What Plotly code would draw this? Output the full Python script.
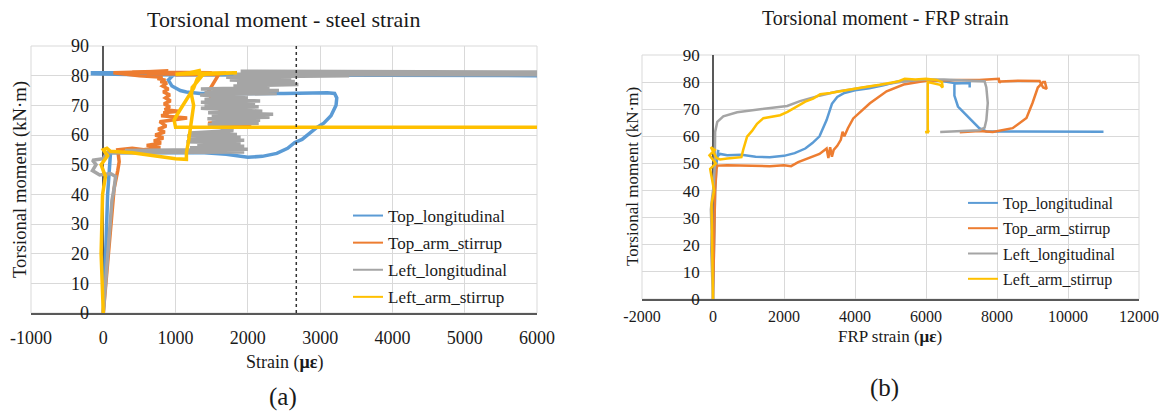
import plotly.graph_objects as go

PAGE_W, PAGE_H = 1167, 411
BODY = 8  # default page margin around the plot div
W, H = PAGE_W - BODY, PAGE_H - BODY
FONT = "Liberation Serif"
COLORS = {"Top_longitudinal": "#5B9BD5", "Top_arm_stirrup": "#ED7D31",
          "Left_longitudinal": "#A5A5A5", "Left_arm_stirrup": "#FFC000"}
SERIES = ["Top_longitudinal", "Top_arm_stirrup", "Left_longitudinal", "Left_arm_stirrup"]

# ---------------- (a) steel strain ----------------
steel_top_long_x = [0, 20, 40, 60, 80, 100, 300, 800, 1400, 1700, 2000, 2200, 2400, 2550, 2650, 2750, 2850,
                    2950, 3050, 3150, 3220, 3230, 3200, 3100, 2500, 1800, 1340, 1150, 1065, 950, 900, 980,
                    900, 400, -150, -150, 500, 2000, 4000, 6000]
steel_top_long_y = [0, 10, 25, 40, 50, 54, 54, 54, 54, 53.5, 52.5, 52.8, 53.8, 55.5, 57.5, 58.5, 60.5,
                    62.5, 64, 66.5, 70, 72.5, 74, 74.2, 74, 74, 74, 74.5, 75, 76.5, 78.5, 80.5,
                    81, 81, 81, 80.6, 80.3, 80.2, 80, 80]

steel_top_arm_x = [0, 50, 100, 150, 200, 220, 200, 400, 560, 790, 600, 800, 700, 830, 720, 850, 760, 870,
                   780, 1160, 800, 900, 830, 1040, 850, 920, 840, 930, 860, 920, 830, 900, 820, 880, 790,
                   860, 750, 820, 500, 300, 140, 900, 400, 1500, 600, 1700, 1000, 1600, 1450, 1500, 1550,
                   1650, 1900, 2030, 2050, 2000, 1600, 1450, 1700]
steel_top_arm_y = [0, 15, 30, 42, 48, 51, 55, 55.5, 55, 55.8, 56.5, 57.3, 58, 59, 60, 61, 62, 63,
                   64.5, 65.7, 66.5, 67, 67.5, 68, 68.5, 69.5, 70.5, 71.5, 72.5, 73.5, 74.5, 75.5, 76.5, 77.5, 78,
                   78.5, 79, 79.5, 80, 80.5, 81, 81.5, 81.2, 81, 80.5, 80.8, 80.3, 80.5, 74.5, 72.5, 70,
                   67.8, 67.5, 66, 64, 63, 63, 64, 64.5]

steel_left_long_x = [0, 30, 60, 90, 120, 150, 170, 100, -50, -150, -100, -150, 0,
                     50, 1950, 300, 2000, 1200, 1950, 1300, 1900, 1150, 1950,
                     1200, 1900, 1160, 1850, 1200, 1800, 1450, 2150, 1500, 2170,
                     1440, 2300, 1500, 2350, 1450, 2200, 1350, 2150, 1400, 2100,
                     1350, 2170, 1400, 2000, 1340, 2400, 1400, 2430, 1350, 2300,
                     1800, 2700, 1850, 2650, 1750, 2600, 1700, 3400, 1800, 3000,
                     1900, 6000, 2800, 6000]
steel_left_long_y = [0, 10, 20, 30, 38, 42, 46, 47, 46.5, 48, 50, 51.5, 52,
                     54, 54.3, 54.8, 55.2, 55.7, 56.2, 56.7, 57.2, 57.7, 58.2,
                     58.7, 59.2, 59.7, 60.2, 60.7, 61.5, 63.5, 64, 64.5, 65,
                     65.5, 66, 66.5, 67, 67.5, 68, 69, 69.5, 70, 70.5,
                     71, 71.5, 72, 72.5, 73.5, 74, 74.5, 75, 75.5, 76,
                     76.5, 77, 77.5, 78, 78.5, 79, 79.5, 80, 80.5, 81,
                     81.5, 81.2, 80.3, 80.3]

steel_left_arm_x = [0, -20, -30, -20, -10, 30, -30, 60, 0, 50, 100, 400, 700, 1000, 1150, 1150, 1180,
                    1200, 1230, 1250, 1220, 1230, 1300, 1350, 1300, 1350, 1200, 1000, 1400, 1850, 1400,
                    1300, 1250, 1150, 1050, 980, 1000, 2000, 6000]
steel_left_arm_y = [0, 10, 20, 30, 40, 46, 50, 53, 55, 55.5, 54.5, 54, 53, 52, 51.8, 54, 58,
                    62, 66, 70, 73.5, 76, 78, 79.5, 81.3, 81.8, 81, 80.5, 80.8, 81, 80.5,
                    79, 75.8, 72, 68, 65, 62.6, 62.6, 62.6]

YIELD_STRAIN = 2670

# ---------------- (b) FRP strain ----------------
frp_top_long_x = [0, 30, 60, 100, 150, 120, 200, 400, 800, 1200, 1600, 2000, 2300, 2600, 2800, 3000,
                  3200, 3350, 3500, 3700, 4000, 4400, 4800, 5200, 5600, 6000, 6400, 6800, 7230, 7230,
                  7230, 6800, 6800, 6900, 7200, 7500, 7700, 9000, 11000]
frp_top_long_y = [0, 20, 40, 50, 55, 52.5, 53.5, 53, 53.2, 52.5, 52.3, 52.8, 53.8, 55.5, 57.5, 60,
                  66, 72, 74.5, 76, 77, 77.7, 78.8, 80.2, 80.5, 80.8, 80.5, 79.7, 79.7, 78,
                  79.7, 79.5, 75, 71, 67, 63, 61.8, 61.8, 61.7]

frp_top_arm_x = [0, 30, 60, 100, 120, 400, 1000, 1600, 2000, 2200, 2400, 2700, 3000, 3200, 3250, 3300,
                 3350, 3400, 3500, 3600, 3650, 3700, 3800, 3950, 4420, 4890, 5370, 6000, 6500, 7000,
                 7500, 8050, 8070, 8100, 8600, 9200, 9300, 9400, 9350, 9300, 9150, 9000, 8830, 8440,
                 7880, 7500, 6950]
frp_top_arm_y = [0, 20, 40, 48, 49.2, 49.3, 49.2, 49, 49.3, 49, 50.5, 52, 53.5, 55.5, 52, 56,
                 52.5, 55, 56.5, 58.7, 61.7, 60, 63, 66.6, 72.2, 76.6, 79.1, 80.5, 80.7, 80.8,
                 80.8, 81.2, 79.8, 80.2, 80.5, 80.4, 78, 77.5, 80, 80, 78, 72.3, 66.8, 63,
                 61.6, 62, 61.5]

frp_left_long_x = [0, -30, -50, -40, -60, -20, 20, 50, 60, 120, 290, 680, 1000, 1420, 1800, 2090, 2450,
                   3000, 3500, 4000, 4500, 5000, 5500, 6000, 6500, 7000, 7500, 7650, 7700, 7740, 7700,
                   7650, 7500, 7000, 6400]
frp_left_long_y = [0, 10, 18, 25, 33, 38, 42, 50, 61.6, 65.3, 67.4, 68.9, 69.4, 70, 70.5, 71.2, 73,
                   75, 76.5, 77.5, 78.5, 79.5, 80.5, 81, 81, 80.7, 80.5, 80.3, 78, 72.3, 66,
                   63.2, 62.2, 62, 61.6]

frp_left_arm_x = [0, -20, -40, 30, -80, 80, -100, 50, -60, 100, 200, 400, 600, 800, 850, 900, 960, 1100,
                  1240, 1420, 1700, 1890, 2100, 2370, 2600, 2820, 3020, 3300, 3700, 4200, 4700, 5200,
                  5400, 5700, 6000, 6300, 6450, 6470, 6400, 6050, 6050, 5980, 6100]
frp_left_arm_y = [0, 20, 35, 40, 48, 50, 53, 55, 56, 52, 51.5, 51.8, 52, 52.3, 55, 57, 59.9, 62,
                  64.6, 66.7, 67.3, 67.8, 69, 71.2, 72.8, 73.9, 75.5, 76, 77, 78, 79, 80.2,
                  81.2, 81, 81.2, 80.8, 80, 78, 79, 80, 61.5, 61.5, 62]

x_ticks_a = [-1000, 0, 1000, 2000, 3000, 4000, 5000, 6000]
x_ticks_b = [-2000, 0, 2000, 4000, 6000, 8000, 10000, 12000]
y_ticks = [0, 10, 20, 30, 40, 50, 60, 70, 80, 90]

steel = {"Top_longitudinal": (steel_top_long_x, steel_top_long_y),
         "Top_arm_stirrup": (steel_top_arm_x, steel_top_arm_y),
         "Left_longitudinal": (steel_left_long_x, steel_left_long_y),
         "Left_arm_stirrup": (steel_left_arm_x, steel_left_arm_y)}
frp = {"Top_longitudinal": (frp_top_long_x, frp_top_long_y),
       "Top_arm_stirrup": (frp_top_arm_x, frp_top_arm_y),
       "Left_longitudinal": (frp_left_long_x, frp_left_long_y),
       "Left_arm_stirrup": (frp_left_arm_x, frp_left_arm_y)}

fig = go.Figure()
for name in SERIES:
    xs, ys = steel[name]
    fig.add_trace(go.Scatter(x=xs, y=ys, mode="lines", name=name, xaxis="x", yaxis="y",
                             line=dict(color=COLORS[name], width=3.5), showlegend=False))
for name in SERIES:
    xs, ys = frp[name]
    fig.add_trace(go.Scatter(x=xs, y=ys, mode="lines", name=name, xaxis="x2", yaxis="y2",
                             line=dict(color=COLORS[name], width=2.5), showlegend=False))
for lg, xa, ya in (("legend", "x", "y"), ("legend2", "x2", "y2")):
    for name in SERIES:
        fig.add_trace(go.Scatter(x=[None], y=[None], mode="lines", name=name, xaxis=xa, yaxis=ya,
                                 line=dict(color=COLORS[name], width=2), legend=lg,
                                 legendgroup=lg + name, showlegend=True))

def px_x(p):
    return (p - BODY) / W

def px_y(p):
    return 1 - (p - BODY) / H

A_L, A_R, A_T, A_B = 31, 537, 46, 313
B_L, B_R, B_T, B_B = 642, 1139, 55, 299
A_ZERO = 103
B_ZERO = 712.7

GRID = "#D9D9D9"
AX = "#595959"
TXT = "#1a1a1a"

def xaxis(dom, rng, ticks, size, standoff, anchor):
    return dict(domain=dom, range=rng, tickvals=ticks, ticktext=[str(t) for t in ticks], anchor=anchor,
                showgrid=True, gridcolor=GRID, gridwidth=1, zeroline=True, zerolinecolor=AX,
                zerolinewidth=1.5, showline=True, linecolor=AX, linewidth=1.5, ticks="",
                ticklabelstandoff=standoff, automargin=False,
                tickfont=dict(family=FONT, color=TXT, size=size))

def yaxis(dom, pos, size, standoff):
    return dict(domain=dom, range=[0, 90], tickvals=y_ticks, ticktext=[str(t) for t in y_ticks],
                anchor="free", position=pos, showgrid=True, gridcolor=GRID, gridwidth=1,
                zeroline=False, showline=False, ticks="", ticklabelstandoff=standoff, automargin=False,
                tickfont=dict(family=FONT, color=TXT, size=size))

fig.update_layout(
    width=W, height=H, autosize=False, margin=dict(l=0, r=0, t=0, b=0, autoexpand=False),
    paper_bgcolor="white", plot_bgcolor="white", showlegend=True,
    xaxis=xaxis([px_x(A_L), px_x(A_R)], [-1000, 6000], x_ticks_a, 18, 8, "y"),
    yaxis=yaxis([px_y(A_B), px_y(A_T)], px_x(A_ZERO), 18, 14),
    xaxis2=xaxis([px_x(B_L), px_x(B_R)], [-2000, 12000], x_ticks_b, 16, 2, "y2"),
    yaxis2=yaxis([px_y(B_B), px_y(B_T)], px_x(B_ZERO), 17, 13),
    legend=dict(x=px_x(348), y=px_y(198), xanchor="left", yanchor="top", bgcolor="rgba(0,0,0,0)",
                font=dict(family=FONT, size=17, color=TXT), tracegroupgap=2, itemwidth=30),
    legend2=dict(x=px_x(963), y=px_y(186), xanchor="left", yanchor="top", bgcolor="rgba(0,0,0,0)",
                 font=dict(family=FONT, size=16, color=TXT), tracegroupgap=1.5, itemwidth=30),
)

shapes = []
for xa, ya in (("x", "y"), ("x2", "y2")):
    shapes.append(dict(type="rect", xref=xa + " domain", yref=ya + " domain", x0=0, x1=1, y0=0, y1=1,
                       line=dict(color=GRID, width=1), layer="below"))
shapes.append(dict(type="line", xref="x", yref="y domain", x0=YIELD_STRAIN, x1=YIELD_STRAIN, y0=0, y1=1,
                   line=dict(color="#333333", width=1.5, dash="dot"), layer="above"))
fig.update_layout(shapes=shapes)

ann = []
def text(x, y, s, size, angle=0):
    ann.append(dict(x=px_x(x), y=px_y(y), xref="paper", yref="paper", text=s, showarrow=False,
                    xanchor="center", yanchor="middle", textangle=angle,
                    font=dict(family=FONT, size=size, color=TXT)))

text(283, 20, "Torsional moment - steel strain", 22)
text(20, 180, "Torsional moment (kN·m)", 18.7, -90)
text(284, 362, "Strain (<b>με</b>)", 18)
text(283, 397, "(a)", 25)
text(886, 18, "Torsional moment - FRP strain", 20)
text(632, 177, "Torsional moment (kN·m)", 17, -90)
text(890, 336, "FRP strain (<b>με</b>)", 17)
text(884, 388, "(b)", 25)
fig.update_layout(annotations=ann)

fig.write_html("out.html")
